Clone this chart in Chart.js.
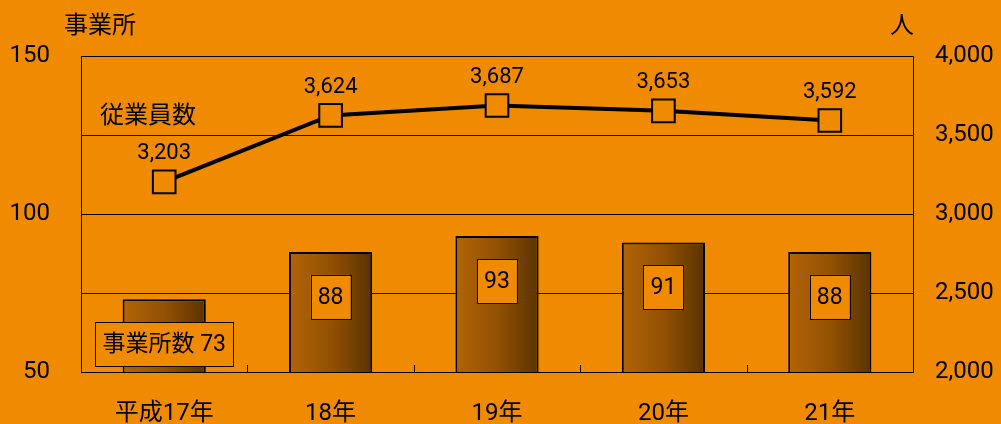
<!DOCTYPE html>
<html>
<head>
<meta charset="utf-8">
<script src="https://cdn.jsdelivr.net/npm/chart.js@4/dist/chart.umd.min.js"></script>
<style>
  html, body { margin: 0; padding: 0; background: #F08A00; }
  #wrap { width: 1001px; height: 424px; }
</style>
</head>
<body>
<div id="wrap"><canvas id="myChart" width="1001" height="424"></canvas></div>
<script>
// data
const categories = ['平成17年', '18年', '19年', '20年', '21年'];
const offices = [73, 88, 93, 91, 88];
const employees = [3203, 3624, 3687, 3653, 3592];
const officeTicks = [50, 100, 150];
const employeeTicks = [2000, 2500, 3000, 3500, 4000];

const FONT = 'Roboto, "Noto Sans CJK JP", sans-serif';

// gradient fill for each bar, from the x scale
function barFill(ctx) {
    const chart = ctx.chart;
    const xs = chart.scales.x;
    if (!xs || !chart.chartArea) return '#8a4a00';
    const cx = xs.getPixelForValue(ctx.dataIndex);
    const half = (xs.getPixelForValue(1) - xs.getPixelForValue(0)) * 0.25;
    const g = chart.ctx.createLinearGradient(cx - half, 0, cx + half, 0);
    g.addColorStop(0, '#B26406');
    g.addColorStop(0.5, '#935103');
    g.addColorStop(1, '#5A3300');
    return g;
}

// small tick marks between categories on the bottom axis
const catTicks = {
    id: 'catTicks',
    beforeDatasetsDraw(chart) {
        const xs = chart.scales.x;
        const c = chart.ctx;
        const bottom = chart.chartArea.bottom;
        c.save();
        c.strokeStyle = '#000';
        c.lineWidth = 1;
        for (let i = 0; i < categories.length - 1; i++) {
            const x = Math.round((xs.getPixelForValue(i) + xs.getPixelForValue(i + 1)) / 2) + 0.5;
            c.beginPath();
            c.moveTo(x, bottom);
            c.lineTo(x, bottom - 7);
            c.stroke();
        }
        c.restore();
    }
};

// value boxes and texts
const labels = {
    id: 'labels',
    afterDatasetsDraw(chart) {
        const c = chart.ctx;
        const area = chart.chartArea;
        c.save();
        c.textBaseline = 'middle';
        c.textAlign = 'center';

        // bar value boxes
        const bars = chart.getDatasetMeta(0).data;
        bars.forEach((bar, i) => {
            const text = i === 0 ? '事業所数 ' + offices[i] : String(offices[i]);
            c.font = '23px ' + FONT;
            const w = c.measureText(text).width + 14;
            const h = 44;
            const y = bar.y + 45;
            c.fillStyle = '#F08A00';
            c.fillRect(bar.x - w / 2, y - h / 2, w, h);
            c.strokeStyle = '#000';
            c.lineWidth = 1;
            c.strokeRect(Math.round(bar.x - w / 2) + 0.5, Math.round(y - h / 2) + 0.5, Math.round(w), h);
            c.fillStyle = '#000';
            c.fillText(text, bar.x, y + 1);
        });

        // line point labels
        const pts = chart.getDatasetMeta(1).data;
        c.font = '22px ' + FONT;
        pts.forEach((p, i) => {
            c.fillText(employees[i].toLocaleString('en-US'), p.x, p.y - 28);
        });

        // axis titles and series name
        c.font = '24px ' + FONT;
        c.fillText('事業所', 100, 27);
        c.fillText('人', 902, 27);
        c.textAlign = 'left';
        c.fillText('従業員数', area.left + 19, 117);
        c.restore();
    }
};

const ctx = document.getElementById('myChart').getContext('2d');
const myChart = new Chart(ctx, {
    data: {
        labels: categories,
        datasets: [{
            type: 'bar',
            label: '事業所数',
            data: offices,
            yAxisID: 'y',
            backgroundColor: barFill,
            borderColor: '#000',
            borderWidth: 2,
            borderSkipped: false,
            categoryPercentage: 1,
            barPercentage: 0.5,
            order: 2
        }, {
            type: 'line',
            label: '従業員数',
            data: employees,
            yAxisID: 'y2',
            borderColor: '#000',
            borderWidth: 4,
            pointStyle: 'rect',
            pointRadius: 16,
            pointBackgroundColor: '#F08A00',
            pointBorderColor: '#000',
            pointBorderWidth: 2,
            order: 1
        }]
    },
    options: {
        responsive: false,
        animation: false,
        events: [],
        layout: { padding: { top: 56, left: 0, right: 0, bottom: 0 } },
        plugins: {
            legend: { display: false },
            tooltip: { enabled: false }
        },
        scales: {
            x: {
                offset: true,
                grid: { display: false },
                border: { display: false },
                ticks: { color: '#000', font: { family: FONT, size: 24 }, padding: 20, maxRotation: 0 },
                afterFit: s => { s.height = 52; }
            },
            y: {
                position: 'left',
                min: officeTicks[0],
                max: officeTicks[officeTicks.length - 1],
                afterBuildTicks: s => { s.ticks = officeTicks.map(v => ({ value: v })); },
                grid: { display: false, drawTicks: false },
                border: { color: '#000', width: 1 },
                ticks: { color: '#000', font: { family: FONT, size: 24 }, padding: 31 },
                afterFit: s => { s.width = 81; }
            },
            y2: {
                position: 'right',
                min: employeeTicks[0],
                max: employeeTicks[employeeTicks.length - 1],
                afterBuildTicks: s => { s.ticks = employeeTicks.map(v => ({ value: v })); },
                grid: { color: '#000', lineWidth: 1, drawTicks: false },
                border: { color: '#000', width: 1 },
                ticks: {
                    color: '#000',
                    font: { family: FONT, size: 24 },
                    padding: 22,
                    callback: v => v.toLocaleString('en-US')
                },
                afterFit: s => { s.width = 88; }
            }
        }
    },
    plugins: [catTicks, labels]
});
</script>
</body>
</html>
